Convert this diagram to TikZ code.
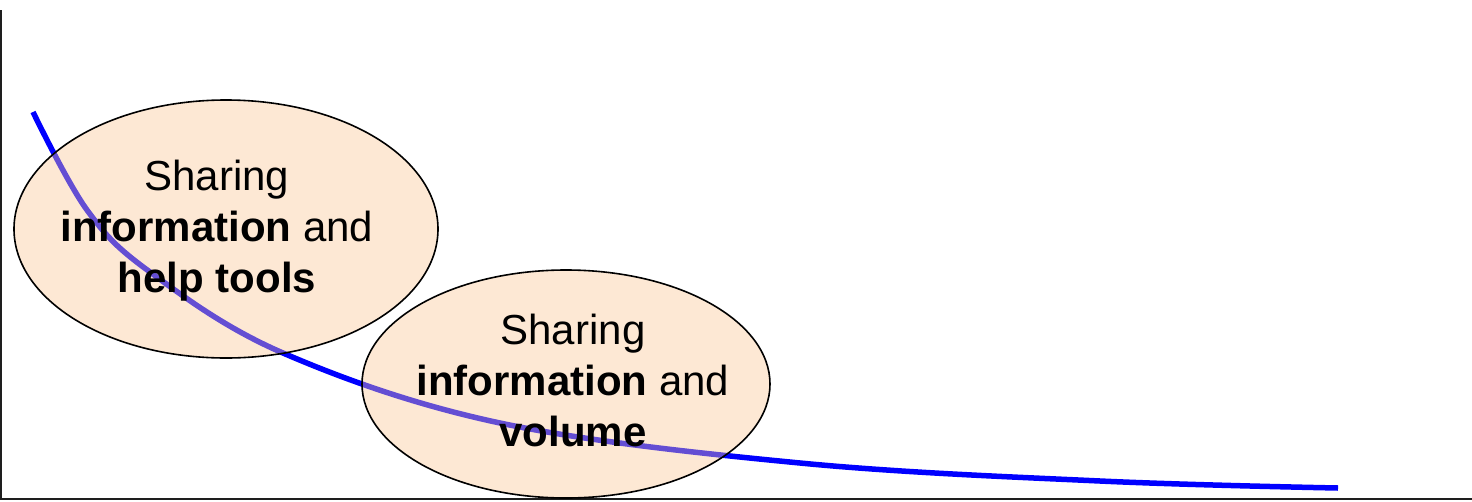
\documentclass[tikz,border=0pt]{standalone}
\usepackage{fontspec}
\setmainfont{Liberation Sans}
\definecolor{ellfill}{RGB}{250,197,147}
\definecolor{axisgray}{RGB}{30,30,30}
\tikzset{
  bubble/.style={draw=black, line width=1.6pt, fill=ellfill, fill opacity=0.4, text opacity=1},
  bubbletext/.style={align=center, font=\fontsize{42}{51}\selectfont, text=black},
  axisline/.style={draw=axisgray, line width=2pt},
  trend/.style={draw={rgb,255:red,0;green,0;blue,255}, line width=5.5pt}
}
\begin{document}
\begin{tikzpicture}[x=1pt,y=-1pt]
\useasboundingbox (0,0) rectangle (1472,501);
% axes
\coordinate (top) at (1,10);
\coordinate (origin) at (1,499);
\coordinate (xend) at (1472,499);
\draw[axisline] (top) -- (origin) -- (xend);
% trend curve
\draw[trend] plot[smooth, tension=0.6] coordinates {(33,112) (87,210) (150,272) (283,353) (500,423) (800,463) (1100,481) (1338,488)};
% ellipses
\draw[bubble] (226,229) ellipse [x radius=212, y radius=129];
\draw[bubble] (566,384) ellipse [x radius=204, y radius=114];
\node[bubbletext] (t1) at (217,231) {Sharing\\\textbf{information} and\\\textbf{help tools}};
\node[bubbletext] (t2) at (573,380) {Sharing\\\textbf{information} and\\\textbf{volume}};
\end{tikzpicture}
\end{document}
